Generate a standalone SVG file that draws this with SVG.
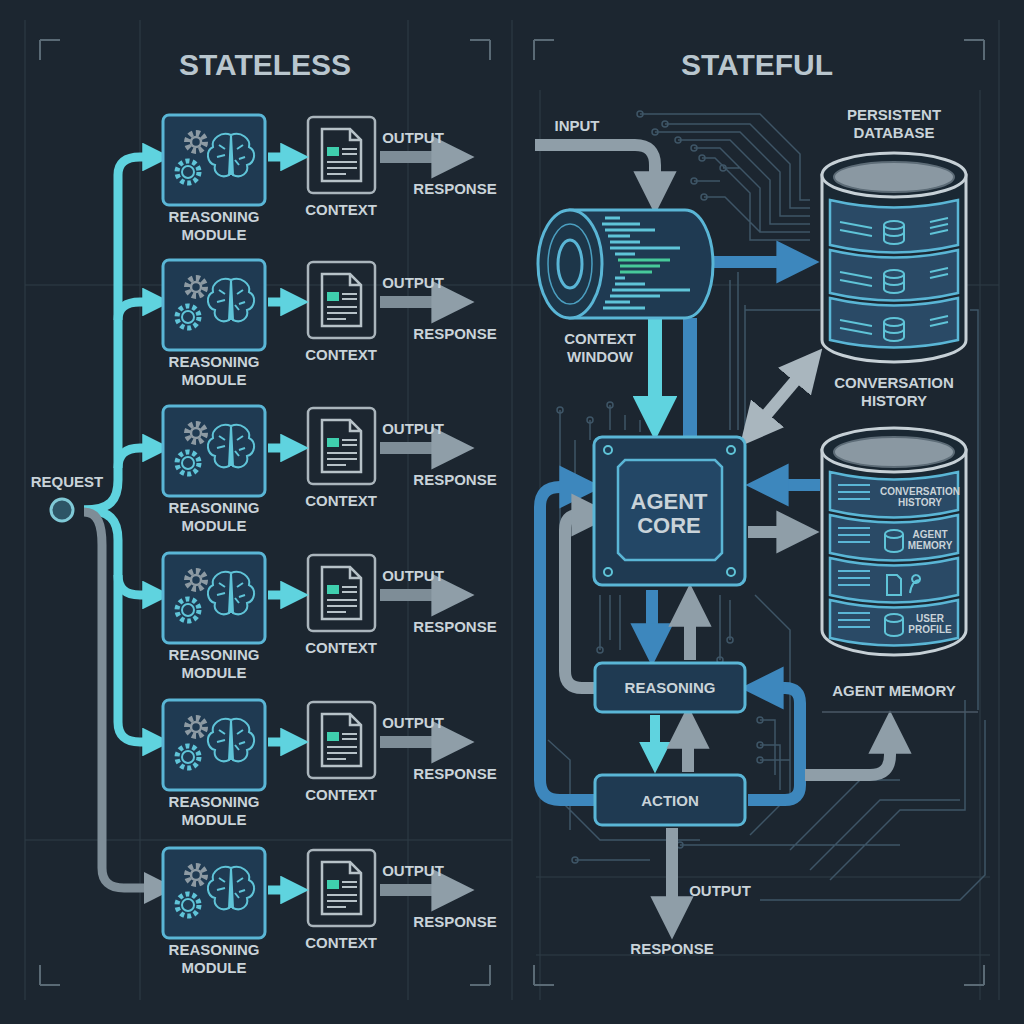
<svg xmlns="http://www.w3.org/2000/svg" width="1024" height="1024" viewBox="0 0 1024 1024">
<style>
.t{font-family:"Liberation Sans",Arial,sans-serif;font-weight:bold;fill:#c9d3d9;text-anchor:middle}
.s{font-size:15px}
.h{font-size:30px;fill:#b9c6ce}
.grid{stroke:#2f3c47;stroke-width:1;fill:none}
.tr{stroke:#3e5566;stroke-width:1.5;fill:none}
.cy{fill:none;stroke:#5fd3df;stroke-width:9;stroke-linecap:butt}
.bl{fill:none;stroke:#3d87bd;stroke-width:12}
.gr{fill:none;stroke:#8f9ea8;stroke-width:12}
.box{fill:#1f3a52;stroke:#5ab6d6;stroke-width:3}
.ic{fill:none;stroke:#5fc4d8;stroke-width:2}
.doc{fill:none;stroke:#b7c2c8;stroke-width:2.5}
</style>
<defs>
<marker id="ac" viewBox="0 0 10 10" refX="2" refY="5" markerWidth="3.2" markerHeight="3.2" orient="auto"><path d="M0,0L10,5L0,10Z" fill="#5fd3df"/></marker>
<marker id="ab" viewBox="0 0 10 10" refX="2" refY="5" markerWidth="3.6" markerHeight="3.6" orient="auto"><path d="M0,0L10,5L0,10Z" fill="#3d87bd"/></marker>
<marker id="ag" viewBox="0 0 10 10" refX="2" refY="5" markerWidth="3.6" markerHeight="3.6" orient="auto"><path d="M0,0L10,5L0,10Z" fill="#8f9ea8"/></marker>
<marker id="agb" viewBox="0 0 10 10" refX="2" refY="5" markerWidth="3.6" markerHeight="3.6" orient="auto-start-reverse"><path d="M0,0L10,5L0,10Z" fill="#a9b6be"/></marker>
<g id="mod">
<rect x="0" y="0" width="102" height="90" rx="6" class="box"/>
<circle cx="33" cy="27" r="9" fill="none" stroke="#8d9aa3" stroke-width="6" stroke-dasharray="4 3"/>
<circle cx="33" cy="27" r="5" fill="none" stroke="#8d9aa3" stroke-width="2.5"/>
<circle cx="25" cy="57" r="11" fill="none" stroke="#5fc4d8" stroke-width="5" stroke-dasharray="4 3"/>
<circle cx="25" cy="57" r="6" class="ic"/>
<path class="ic" d="M68,20 C58,16 48,24 50,32 C42,36 44,48 52,50 C50,58 58,64 66,60 Z M68,20 C78,16 88,24 86,32 C94,36 92,48 84,50 C86,58 78,64 70,60 Z M68,20 V60 M56,30 l6,4 M54,42 l8,-2 M80,30 l-6,4 M82,42 l-6,2 M76,50 l-4,-5"/>
</g>
<g id="ctx">
<rect x="0" y="0" width="67" height="76" rx="5" fill="none" stroke="#aab5bc" stroke-width="2.5"/>
<path class="doc" d="M14,12 H42 L53,23 V64 H14 Z M42,12 V23 H53"/>
<rect x="19" y="30" width="12" height="9" fill="#3fcfae"/>
<path stroke="#b7c2c8" stroke-width="2" d="M34,32 H49 M34,37 H49 M19,45 H49 M19,51 H49 M19,57 H38"/>
</g>
</defs>
<rect width="1024" height="1024" fill="#1c2630"/>
<g class="grid">
<path d="M25,20V1000 M999,20V1000 M512,20V1000 M140,20V1000 M408,20V1000 M540,90V1000 M980,90V1000 M25,285H999 M25,840H512 M536,877H990 M536,955H990"/>
<path stroke="#5a6a75" stroke-width="2" d="M40,40h20 M40,40v20 M490,40h-20 M490,40v20 M534,40h20 M534,40v20 M984,40h-20 M984,40v20 M40,985h20 M40,985v-20 M490,985h-20 M490,985v-20 M534,985h20 M534,985v-20 M984,985h-20 M984,985v-20"/>
</g>
<text class="t h" x="265" y="75">STATELESS</text>
<text class="t h" x="757" y="75">STATEFUL</text>
<g class="tr">
<path d="M640,114H760L800,154V200H810 M665,124H750L790,164V208H810 M655,132H740L780,172V216H810 M678,140H730L770,180V224H810 M694,148H720L760,188V232H810 M702,158H715L750,193V240H810 M723,168H740 M694,181H720 M704,197H725L760,232H810"/>
<circle cx="640" cy="114" r="3"/><circle cx="665" cy="124" r="3"/><circle cx="655" cy="132" r="3"/><circle cx="678" cy="140" r="3"/><circle cx="694" cy="148" r="3"/><circle cx="702" cy="158" r="3"/><circle cx="723" cy="168" r="3"/><circle cx="694" cy="181" r="3"/><circle cx="704" cy="197" r="3"/>
<path d="M738,272V430 M730,280V430 M745,305V430 M745,310H820 M970,310H978V710"/>
<path d="M560,410V660 M575,440V480 M590,420V440 M610,405V430 M625,415V430 M640,420V432 M548,740L570,760V830 M560,800L600,840H700 M575,860H650 M680,845H900 M750,835L800,785V720 M790,850L860,780H900 M810,870L880,800H960 M830,880L900,810H965V700 M760,900H960L985,875V720"/>
<path d="M600,595V650 M610,595V640 M620,595V650 M720,595V660 M730,600V640 M755,595L790,630V760 M760,720H775V775 M760,745H780V790 M760,760H790V800"/>
<circle cx="600" cy="650" r="3"/><circle cx="720" cy="660" r="3"/><circle cx="730" cy="640" r="3"/><circle cx="560" cy="410" r="3"/><circle cx="590" cy="420" r="3"/><circle cx="610" cy="405" r="3"/><circle cx="575" cy="860" r="3"/><circle cx="680" cy="845" r="3"/><circle cx="760" cy="720" r="3"/><circle cx="760" cy="745" r="3"/><circle cx="760" cy="760" r="3"/>
</g>
<g id="connectors-left">
<path class="cy" d="M84,510 C110,510 118,500 118,480 V175 Q118,157 140,157 H148" marker-end="url(#ac)"/>
<path class="cy" d="M118,320 Q118,302 140,302 H148" marker-end="url(#ac)"/>
<path class="cy" d="M118,468 Q118,448 140,448 H148" marker-end="url(#ac)"/>
<path class="cy" d="M84,510 C110,510 118,520 118,540 V575 Q118,595 140,595 H148" marker-end="url(#ac)"/>
<path class="cy" d="M118,575 V722 Q118,742 140,742 H148" marker-end="url(#ac)"/>
<path d="M84,512 C98,512 102,525 102,545 V868 Q102,888 124,888 H150" fill="none" stroke="#7e8d97" stroke-width="9" marker-end="url(#ag)"/>
</g>
<circle cx="62" cy="510" r="11" fill="#2d5566" stroke="#7fc9d6" stroke-width="3"/>
<text class="t s" x="67" y="487">REQUEST</text>
<g id="row1" transform="translate(0,0)">
<use href="#mod" x="163" y="115"/><use href="#ctx" x="308" y="117"/>
<path class="cy" d="M268,157H286" stroke-width="11" marker-end="url(#ac)"/>
<path d="M380,157H440" stroke="#7e8d97" stroke-width="12" marker-end="url(#ag)"/>
<text class="t s" x="214" y="222">REASONING</text><text class="t s" x="214" y="240">MODULE</text>
<text class="t s" x="341" y="215">CONTEXT</text><text class="t s" x="413" y="143">OUTPUT</text><text class="t s" x="455" y="194">RESPONSE</text>
</g>
<g id="row2" transform="translate(0,145)">
<use href="#mod" x="163" y="115"/><use href="#ctx" x="308" y="117"/>
<path class="cy" d="M268,157H286" stroke-width="11" marker-end="url(#ac)"/>
<path d="M380,157H440" stroke="#7e8d97" stroke-width="12" marker-end="url(#ag)"/>
<text class="t s" x="214" y="222">REASONING</text><text class="t s" x="214" y="240">MODULE</text>
<text class="t s" x="341" y="215">CONTEXT</text><text class="t s" x="413" y="143">OUTPUT</text><text class="t s" x="455" y="194">RESPONSE</text>
</g>
<g id="row3" transform="translate(0,291)">
<use href="#mod" x="163" y="115"/><use href="#ctx" x="308" y="117"/>
<path class="cy" d="M268,157H286" stroke-width="11" marker-end="url(#ac)"/>
<path d="M380,157H440" stroke="#7e8d97" stroke-width="12" marker-end="url(#ag)"/>
<text class="t s" x="214" y="222">REASONING</text><text class="t s" x="214" y="240">MODULE</text>
<text class="t s" x="341" y="215">CONTEXT</text><text class="t s" x="413" y="143">OUTPUT</text><text class="t s" x="455" y="194">RESPONSE</text>
</g>
<g id="row4" transform="translate(0,438)">
<use href="#mod" x="163" y="115"/><use href="#ctx" x="308" y="117"/>
<path class="cy" d="M268,157H286" stroke-width="11" marker-end="url(#ac)"/>
<path d="M380,157H440" stroke="#7e8d97" stroke-width="12" marker-end="url(#ag)"/>
<text class="t s" x="214" y="222">REASONING</text><text class="t s" x="214" y="240">MODULE</text>
<text class="t s" x="341" y="215">CONTEXT</text><text class="t s" x="413" y="143">OUTPUT</text><text class="t s" x="455" y="194">RESPONSE</text>
</g>
<g id="row5" transform="translate(0,585)">
<use href="#mod" x="163" y="115"/><use href="#ctx" x="308" y="117"/>
<path class="cy" d="M268,157H286" stroke-width="11" marker-end="url(#ac)"/>
<path d="M380,157H440" stroke="#7e8d97" stroke-width="12" marker-end="url(#ag)"/>
<text class="t s" x="214" y="222">REASONING</text><text class="t s" x="214" y="240">MODULE</text>
<text class="t s" x="341" y="215">CONTEXT</text><text class="t s" x="413" y="143">OUTPUT</text><text class="t s" x="455" y="194">RESPONSE</text>
</g>
<g id="row6" transform="translate(0,733)">
<use href="#mod" x="163" y="115"/><use href="#ctx" x="308" y="117"/>
<path class="cy" d="M268,157H286" stroke-width="11" marker-end="url(#ac)"/>
<path d="M380,157H440" stroke="#7e8d97" stroke-width="12" marker-end="url(#ag)"/>
<text class="t s" x="214" y="222">REASONING</text><text class="t s" x="214" y="240">MODULE</text>
<text class="t s" x="341" y="215">CONTEXT</text><text class="t s" x="413" y="143">OUTPUT</text><text class="t s" x="455" y="194">RESPONSE</text>
</g>
<g id="connectors-right">
<path class="gr" d="M535,145H635Q655,145 655,165V180" marker-end="url(#ag)"/>
<path class="bl" d="M712,262H785" marker-end="url(#ab)"/>
<path d="M655,318V405" fill="none" stroke="#5fd3df" stroke-width="14" marker-end="url(#ac)"/>
<path d="M690,318V437" stroke="#3d87bd" stroke-width="14"/>
<path d="M762,420L800,375" stroke="#a9b6be" stroke-width="12" marker-start="url(#agb)" marker-end="url(#agb)"/>
<path class="bl" d="M820,485H780" stroke-width="14" marker-end="url(#ab)"/>
<path class="gr" d="M748,532H785" stroke-width="14" stroke="#a9b6be" marker-end="url(#ag)"/>
<path class="bl" d="M652,590V632" stroke-width="12" marker-end="url(#ab)"/>
<path class="gr" d="M690,660V618" stroke="#a9b6be" marker-end="url(#ag)"/>
<path d="M655,715V748" fill="none" stroke="#5fd3df" stroke-width="10" marker-end="url(#ac)"/>
<path class="gr" d="M688,772V740" stroke-width="10" marker-end="url(#ag)"/>
<path class="bl" d="M595,800H560Q540,800 540,780V507Q540,487 560,487H568" stroke-width="10" marker-end="url(#ab)"/>
<path class="gr" d="M595,688H582Q565,688 565,671V530Q565,515 578,515H580" stroke-width="10" marker-end="url(#ag)"/>
<path class="bl" d="M748,800H785Q800,800 800,785V703Q800,688 785,688H775" stroke-width="10" marker-end="url(#ab)"/>
<path class="gr" d="M805,775H870Q890,775 890,755V745" stroke-width="10" marker-end="url(#ag)"/>
<path class="gr" d="M672,828V905" stroke-width="10" marker-end="url(#ag)"/>
</g>
<text class="t s" x="577" y="131">INPUT</text>
<text class="t s" x="720" y="896">OUTPUT</text>
<text class="t s" x="672" y="954">RESPONSE</text>
<g id="context-window">
<path d="M570,210H685A28,54 0 0 1 685,318H570Z" fill="#1f3a52" stroke="#5ab6d6" stroke-width="3"/>
<ellipse cx="570" cy="264" rx="32" ry="54" fill="#1d3649" stroke="#5ab6d6" stroke-width="3"/>
<ellipse cx="570" cy="264" rx="22" ry="40" fill="none" stroke="#4b9fc0" stroke-width="1.5"/>
<ellipse cx="570" cy="264" rx="12" ry="24" fill="none" stroke="#5ab6d6" stroke-width="3"/>
<g stroke-width="3">
<path stroke="#5fc4d8" d="M605,218H620 M602,224H640 M605,230H655 M608,236H630 M610,242H640 M610,248H680 M615,254H635"/>
<path stroke="#47c99a" d="M618,260H670 M620,266H660 M620,272H652"/>
<path stroke="#5fc4d8" d="M615,278H625 M615,284H645 M612,290H690 M610,296H660 M605,302H630 M603,308H645"/>
</g>
<text class="t s" x="600" y="344">CONTEXT</text><text class="t s" x="600" y="362">WINDOW</text>
</g>
<g id="persistent-db">
<text class="t s" x="894" y="120">PERSISTENT</text><text class="t s" x="894" y="138">DATABASE</text>
<path d="M822,175V340A72,22 0 0 0 966,340V175Z" fill="#1a2833" stroke="#c6d0d6" stroke-width="3"/>
<ellipse cx="894" cy="175" rx="72" ry="22" fill="#1a2833" stroke="#c6d0d6" stroke-width="3"/>
<ellipse cx="894" cy="177" rx="60" ry="15" fill="#8a98a2" stroke="#5d6c77" stroke-width="2"/>
<path d="M830,200Q894,215 958,200V245Q894,260 830,245Z M830,250Q894,265 958,250V293Q894,308 830,293Z M830,298Q894,313 958,298V340Q894,355 830,340Z" fill="#2a4a66" stroke="#5ab6d6" stroke-width="2.5"/>
<g class="ic"><ellipse cx="894" cy="225" rx="10" ry="4"/><path d="M884,225V240A10,4 0 0 0 904,240V225 M884,232A10,4 0 0 0 904,232"/>
<ellipse cx="894" cy="274" rx="10" ry="4"/><path d="M884,274V289A10,4 0 0 0 904,289V274 M884,281A10,4 0 0 0 904,281"/>
<ellipse cx="894" cy="322" rx="10" ry="4"/><path d="M884,322V337A10,4 0 0 0 904,337V322 M884,329A10,4 0 0 0 904,329"/>
<path d="M840,222L872,228 M840,230L872,236 M840,272L872,278 M840,280L872,286 M840,320L872,326 M840,328L872,334 M930,222L948,218 M930,228L948,224 M930,234L948,230 M930,272L948,268 M930,278L948,274 M930,320L948,316 M930,326L948,322"/></g>
<text class="t s" x="894" y="388">CONVERSATION</text><text class="t s" x="894" y="406">HISTORY</text>
</g>
<g id="agent-core">
<rect x="594" y="437" width="151" height="148" rx="8" class="box"/>
<path d="M625,460H715L722,467V553L715,560H625L618,553V467Z" fill="#234766" stroke="#5ab6d6" stroke-width="2.5"/>
<circle cx="608" cy="450" r="4" class="ic"/><circle cx="731" cy="450" r="4" class="ic"/><circle cx="608" cy="572" r="4" class="ic"/><circle cx="731" cy="572" r="4" class="ic"/>
<text class="t" x="669" y="509" font-size="22">AGENT</text><text class="t" x="669" y="533" font-size="22">CORE</text>
</g>
<g id="agent-memory">
<path d="M822,450V630A72,25 0 0 0 966,630V450Z" fill="#1a2833" stroke="#c6d0d6" stroke-width="3"/>
<ellipse cx="894" cy="450" rx="72" ry="22" fill="#1a2833" stroke="#c6d0d6" stroke-width="3"/>
<ellipse cx="894" cy="452" rx="60" ry="15" fill="#8a98a2" stroke="#5d6c77" stroke-width="2"/>
<path d="M830,472Q894,487 958,472V510Q894,525 830,510Z M830,515Q894,530 958,515V553Q894,568 830,553Z M830,558Q894,573 958,558V595Q894,610 830,595Z M830,600Q894,615 958,600V638Q894,653 830,638Z" fill="#2a4a66" stroke="#5ab6d6" stroke-width="2.5"/>
<path stroke="#5ab6d6" stroke-width="2" d="M838,485H870M838,492H870M838,499H870M838,528H870M838,535H870M838,542H870M838,571H870M838,578H870M838,585H870M838,613H870M838,620H870M838,627H870"/>
<g font-size="10" class="t"><text x="920" y="495">CONVERSATION</text><text x="920" y="506">HISTORY</text><text x="930" y="538">AGENT</text><text x="930" y="549">MEMORY</text><text x="930" y="622">USER</text><text x="930" y="633">PROFILE</text></g>
<g class="ic"><ellipse cx="894" cy="534" rx="9" ry="4"/><path d="M885,534V548A9,4 0 0 0 903,548V534"/><path d="M887,575H897L901,579V595H887Z M910,593Q912,580 920,580 M916,575a4,4 0 1 0 0.1,0"/><ellipse cx="894" cy="618" rx="9" ry="4"/><path d="M885,618V632A9,4 0 0 0 903,632V618"/></g>
<path d="M822,712H978" stroke="#4a5966" stroke-width="1.5"/>
<text class="t s" x="894" y="696">AGENT MEMORY</text>
</g>
<g id="reasoning"><rect x="595" y="663" width="150" height="49" rx="7" class="box"/><text class="t s" x="670" y="693">REASONING</text></g>
<g id="action"><rect x="595" y="775" width="150" height="50" rx="7" class="box"/><text class="t s" x="670" y="806">ACTION</text></g>
</svg>
